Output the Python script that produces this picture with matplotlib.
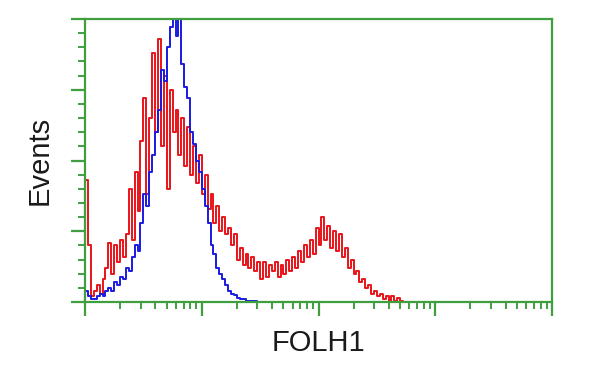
import numpy as np
import matplotlib
matplotlib.use("Agg")
import matplotlib.pyplot as plt
from matplotlib.ticker import LogLocator, MultipleLocator, NullFormatter

# channel width in decades (log10 scale)
bin_width = 0.025

# FOLH1-transfected cells (red), percent of max events per channel
red_counts = [43, 20, 2, 4, 6, 3, 8, 12, 21, 10,
              20, 14, 22, 16, 24, 40, 22, 46, 32, 57,
              72, 38, 65, 88, 60, 93, 55, 80, 40, 75,
              60, 68, 52, 65, 48, 62, 45, 55, 42, 52,
              38, 45, 33, 38, 28, 34, 25, 30, 24, 26,
              20, 24, 15, 19, 13, 17, 12, 16, 11, 14,
              8, 14, 9, 13, 11, 14, 9, 13, 10, 15,
              11, 16, 12, 18, 14, 20, 16, 22, 17, 26,
              20, 30, 22, 27, 19, 25, 18, 24, 16, 19,
              12, 15, 10, 11, 7, 8, 5, 6, 3, 4,
              2, 3, 1, 2, 0.5, 2, 0.5, 1.5, 0.3, 0]

# empty vector control (blue)
blue_counts = [4, 2, 1, 1, 2, 3, 2, 4, 5, 4,
               7, 6, 9, 8, 12, 11, 16, 20, 18, 28,
               38, 34, 46, 52, 60, 68, 82, 78, 90, 97,
               100, 94, 102, 84, 76, 72, 60, 56, 50, 46,
               40, 34, 28, 20, 17, 12, 10, 8, 6, 4,
               3, 2.5, 1.5, 1, 1, 0.5, 0.5, 0.3, 0.2, 0]

red_x = 10 ** ((np.arange(len(red_counts)) + 0.5) * bin_width)
blue_x = 10 ** ((np.arange(len(blue_counts)) + 0.5) * bin_width)

green = "#3f9f3f"

fig = plt.figure(figsize=(6, 3.75), dpi=100)
ax = fig.add_axes([85 / 600, 1 - 302 / 375, (552 - 85) / 600, (302 - 19) / 375])

ax.plot(red_x, red_counts, drawstyle="steps-mid", color="#e8141a", lw=1.4)
ax.plot(blue_x, blue_counts, drawstyle="steps-mid", color="#1a1ae0", lw=1.4)

ax.set_xscale("log")
ax.set_xlim(1, 1e4)
ax.set_ylim(0, 100)

ax.xaxis.set_major_locator(LogLocator(base=10, numticks=10))
ax.xaxis.set_minor_locator(LogLocator(base=10, subs=np.arange(2, 10), numticks=10))
ax.xaxis.set_major_formatter(NullFormatter())
ax.xaxis.set_minor_formatter(NullFormatter())
ax.yaxis.set_major_locator(MultipleLocator(25))
ax.yaxis.set_minor_locator(MultipleLocator(5))
ax.yaxis.set_major_formatter(NullFormatter())

for s in ax.spines.values():
    s.set_color(green)
    s.set_linewidth(1.6)

ax.tick_params(which="major", direction="out", length=10, width=1.6, color=green)
ax.tick_params(which="minor", direction="out", length=5, width=1.4, color=green)

ax.set_xlabel("FOLH1", family="Liberation Sans", fontsize=21, color="#1a1a1a", labelpad=6)
ax.set_ylabel("Events", family="Liberation Sans", fontsize=21, color="#1a1a1a", labelpad=9)

fig.savefig("out.png", dpi=100)
